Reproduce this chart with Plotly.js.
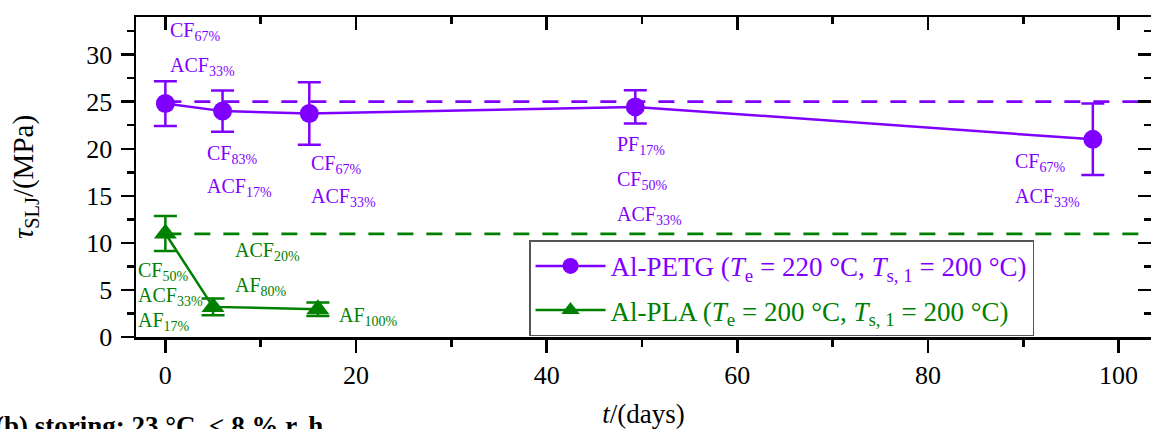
<!DOCTYPE html>
<html>
<head>
<meta charset="utf-8">
<script src="https://cdn.plot.ly/plotly-3.0.1.min.js"></script>
<style>html,body{margin:0;padding:0;background:#fff;}#chart{width:1151px;height:429px;}</style>
</head>
<body>
<div id="chart"></div>
<script>
// ---- data ----
const petgDays = [0, 6, 15.1, 49.3, 97.3];
const petgTau = [24.8, 24.0, 23.75, 24.45, 21.0];
const petgErr = [2.37, 2.2, 3.33, 1.77, 3.8];
const petgMean = 25.0;

const plaDays = [0, 5, 16];
const plaTau = [11.0, 3.2, 2.95];
const plaErr = [1.86, 0.9, 0.72];
const plaMean = 10.95;

const xTicks = [0, 20, 40, 60, 80, 100];
const yTicks = [0, 5, 10, 15, 20, 25, 30];

// failure-mode labels per point (lines of text)
const petgLabels = [
  ["CF<sub>67%</sub>", "ACF<sub>33%</sub>"],
  ["CF<sub>83%</sub>", "ACF<sub>17%</sub>"],
  ["CF<sub>67%</sub>", "ACF<sub>33%</sub>"],
  ["PF<sub>17%</sub>", "CF<sub>50%</sub>", "ACF<sub>33%</sub>"],
  ["CF<sub>67%</sub>", "ACF<sub>33%</sub>"]
];
const plaLabels = [
  ["CF<sub>50%</sub>", "ACF<sub>33%</sub>", "AF<sub>17%</sub>"],
  ["ACF<sub>20%</sub>", "AF<sub>80%</sub>"],
  ["AF<sub>100%</sub>"]
];

// ---- styles ----
const PURPLE = '#8000FF';
const GREEN = '#008000';
const FONT = 'Liberation Serif, Times New Roman, serif';
const xRange = [-3.08, 103.4];
const yRange = [0, 34];

// label placement (pixel offsets from each point: first line dx, dy, line step)
const petgLabelPos = [
  {dx: 3, dy: -72, step: 35},
  {dx: -18, dy: 43, step: 33},
  {dx: 0, dy: 51, step: 33},
  {dx: -20, dy: 39, step: 35},
  {dx: -80, dy: 23, step: 35}
];
const plaLabelPos = [
  {dx: -29, dy: 38, step: 25},
  {dx: 20, dy: -55, step: 35},
  {dx: 19, dy: 7, step: 25}
];

function px2x(dx) { return dx * (xRange[1] - xRange[0]) / 1015; }
function px2y(dy) { return -dy * (yRange[1] - yRange[0]) / 320; }

const annotations = [];
function addLabels(days, tau, labels, pos, color) {
  labels.forEach((lines, i) => {
    lines.forEach((t, j) => {
      annotations.push({
        x: days[i] + px2x(pos[i].dx),
        y: tau[i] + px2y(pos[i].dy + j * pos[i].step),
        xref: 'x', yref: 'y', text: t, showarrow: false,
        xanchor: 'left', yanchor: 'middle',
        font: {family: FONT, size: 20, color: color}
      });
    });
  });
}
addLabels(petgDays, petgTau, petgLabels, petgLabelPos, PURPLE);
addLabels(plaDays, plaTau, plaLabels, plaLabelPos, GREEN);

annotations.push({
  xref: 'paper', yref: 'paper', x: -0.141, y: -0.226,
  xanchor: 'left', yanchor: 'top', showarrow: false,
  text: '<b>(b) storing: 23 °C, &lt; 8 % r. h.</b>',
  font: {family: FONT, size: 27, color: '#000'}
});

const traces = [
  {
    x: [0, xRange[1]], y: [petgMean, petgMean], mode: 'lines',
    line: {color: PURPLE, width: 2.7, dash: '16px,13px'},
    showlegend: false, hoverinfo: 'skip'
  },
  {
    x: [0, xRange[1]], y: [plaMean, plaMean], mode: 'lines',
    line: {color: GREEN, width: 2.7, dash: '16px,13px'},
    showlegend: false, hoverinfo: 'skip'
  },
  {
    x: petgDays, y: petgTau, mode: 'lines+markers',
    name: '<span style="color:' + PURPLE + '">Al-PETG (<i>T</i><sub>e</sub> = 220 °C, <i>T</i><sub>s, 1</sub> = 200 °C)</span>',
    legendgroup: 'a',
    line: {color: PURPLE, width: 2.5},
    marker: {color: PURPLE, size: 19, symbol: 'circle'},
    error_y: {type: 'data', array: petgErr, visible: true, color: PURPLE, thickness: 2.5, width: 11.5}
  },
  {
    x: plaDays, y: plaTau, mode: 'lines+markers',
    name: '<span style="color:' + GREEN + '">Al-PLA (<i>T</i><sub>e</sub> = 200 °C, <i>T</i><sub>s, 1</sub> = 200 °C)</span>',
    legendgroup: 'b',
    line: {color: GREEN, width: 2.5},
    marker: {color: GREEN, size: 20, symbol: 'triangle-up'},
    error_y: {type: 'data', array: plaErr, visible: true, color: GREEN, thickness: 2.5, width: 11.5}
  },
  {
    x: [null], y: [null], xaxis: 'x2', yaxis: 'y2', mode: 'markers',
    showlegend: false, hoverinfo: 'skip'
  }
];

const axisCommon = {
  showgrid: false, zeroline: false, showline: true, linecolor: '#000', linewidth: 2.5,
  tickcolor: '#000', tickwidth: 2.5, ticklen: 13,
  tickfont: {family: FONT, size: 26, color: '#000'}
};

const layout = {
  width: 1151, height: 429,
  margin: {l: 136, r: 0, t: 17, b: 92, pad: 0},
  paper_bgcolor: '#fff', plot_bgcolor: '#fff',
  font: {family: FONT, color: '#000'},
  xaxis: Object.assign({}, axisCommon, {
    range: xRange, tickmode: 'array', tickvals: xTicks, ticks: 'outside',
    minor: {dtick: 10, tick0: 0, ticks: 'outside', ticklen: 7, tickwidth: 2.5, tickcolor: '#000'},
    title: {text: '<i>t</i>/(days)', font: {family: FONT, size: 27, color: '#000'}, standoff: 19}
  }),
  yaxis: Object.assign({}, axisCommon, {
    range: yRange, tickmode: 'array', tickvals: yTicks, ticks: 'outside', ticklabelstandoff: 3,
    minor: {dtick: 2.5, tick0: 0, ticks: 'outside', ticklen: 7, tickwidth: 2.5, tickcolor: '#000'},
    title: {text: '<i>τ</i><sub>SLJ</sub>/(MPa)', font: {family: FONT, size: 29, color: '#000'}, standoff: 44}
  }),
  xaxis2: Object.assign({}, axisCommon, {
    range: xRange, overlaying: 'x', side: 'top', anchor: 'y2',
    tickmode: 'array', tickvals: xTicks, ticks: 'inside', showticklabels: false,
    minor: {dtick: 10, tick0: 0, ticks: 'inside', ticklen: 7, tickwidth: 2.5, tickcolor: '#000'}
  }),
  yaxis2: Object.assign({}, axisCommon, {
    range: yRange, overlaying: 'y', side: 'right', anchor: 'x2',
    tickmode: 'array', tickvals: yTicks, ticks: 'inside', showticklabels: false,
    minor: {dtick: 2.5, tick0: 0, ticks: 'inside', ticklen: 7, tickwidth: 2.5, tickcolor: '#000'}
  }),
  showlegend: true,
  legend: {
    x: 0.3872, y: 0.302, xanchor: 'left', yanchor: 'top',
    bgcolor: '#fff', bordercolor: '#555', borderwidth: 1.5,
    font: {family: FONT, size: 27},
    traceorder: 'grouped', tracegroupgap: 6, itemwidth: 70
  },
  annotations: annotations
};

Plotly.newPlot('chart', traces, layout, {staticPlot: true, displayModeBar: false});
</script>
</body>
</html>
